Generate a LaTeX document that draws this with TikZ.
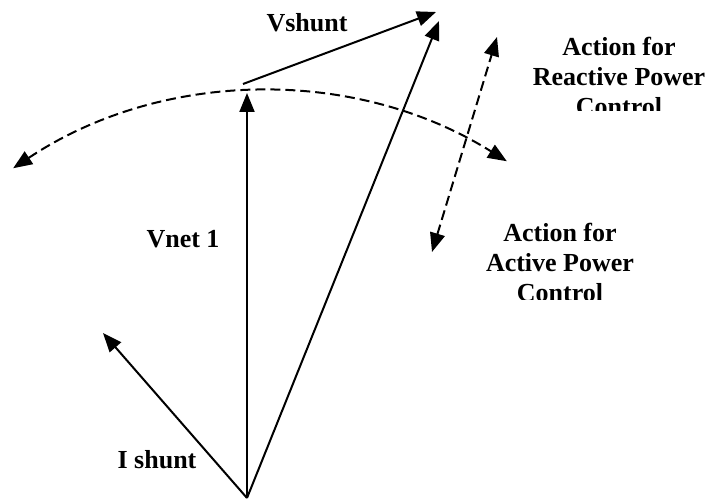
\documentclass[tikz,border=0pt]{standalone}
\usepackage{fontspec}
\setmainfont{Liberation Serif}
\usetikzlibrary{arrows.meta}
\begin{document}
\begin{tikzpicture}[x=1pt,y=1pt,
  vec/.style={line width=2pt, -{Triangle[length=19pt,width=15pt]}},
  swing/.style={line width=2pt, dash pattern=on 10pt off 5pt,
    {Triangle[length=19pt,width=15pt]}-{Triangle[length=19pt,width=15pt]}},
  lbl/.style={font=\fontsize{26}{30}\selectfont\bfseries, inner sep=0pt}]
\useasboundingbox (0,0) rectangle (711,501);

% phasor end points
\coordinate (O) at (247,3);
\coordinate (vnettip) at (247,408);
\coordinate (sumtip) at (439,480);
\coordinate (vsstart) at (243,417);
\coordinate (vstip) at (436,489);
\coordinate (itip) at (103,168);
% swing of the voltage phasor (circle centre) and active power direction
\coordinate (swingc) at (265.4,-45.9);
\coordinate (actlo) at (432,249);
\coordinate (acthi) at (497,464);

% phasors
\draw[vec] (O) -- (vnettip);
\draw[vec] (O) -- (sumtip);
\draw[vec] (vsstart) -- (vstip);
\draw[vec] (O) -- (itip);

% control actions
\draw[swing] ([shift={(123.67:455)}]swingc) arc[start angle=123.67, end angle=57.95, radius=455];
\draw[swing] (actlo) -- (acthi);

% labels
\node[lbl, anchor=base] (vshunt) at (307,469) {Vshunt};
\node[lbl, anchor=base] (vnet) at (183,254) {Vnet 1};
\node[lbl, anchor=base] (ishunt) at (157,33) {I shunt};
\begin{scope}
  \clip (500,390) rectangle (711,501);
  \node[lbl, align=center, anchor=north] (reactive) at (619,464) {Action for\\Reactive Power\\Control};
\end{scope}
\begin{scope}
  \clip (470,201.8) rectangle (680,300);
  \node[lbl, align=center, anchor=north] (active) at (560,278) {Action for\\Active Power\\Control};
\end{scope}
\end{tikzpicture}
\end{document}
